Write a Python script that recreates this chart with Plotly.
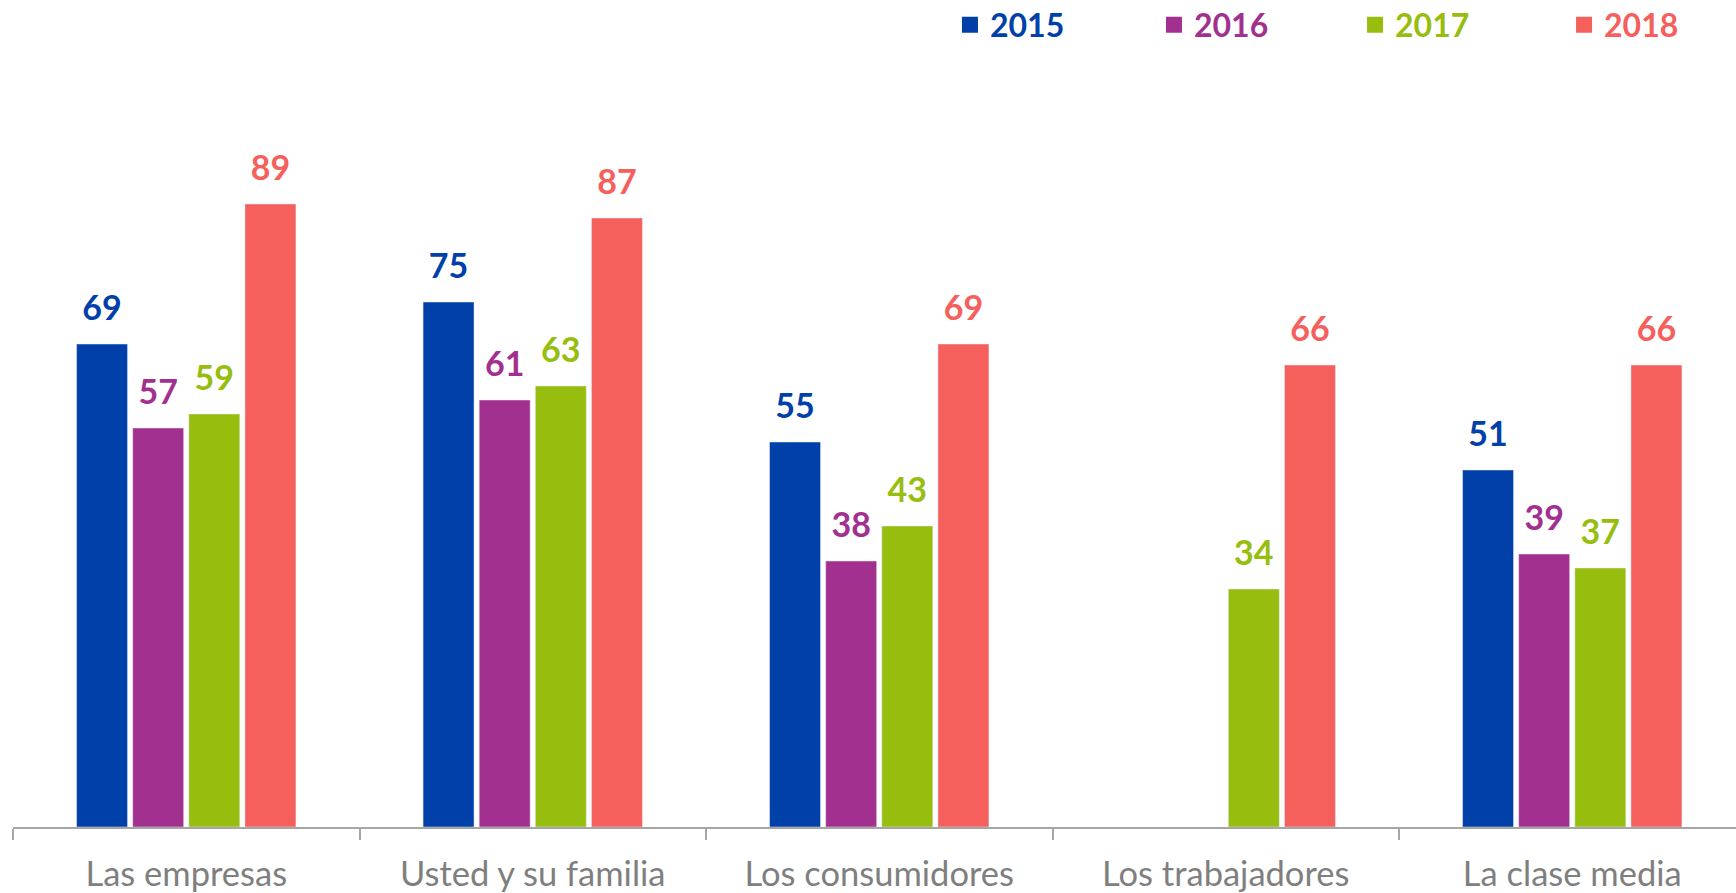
import plotly.graph_objects as go

categories = ["Las empresas", "Usted y su familia", "Los consumidores", "Los trabajadores", "La clase media"]
years = ["2015", "2016", "2017", "2018"]
v2015 = [69, 75, 55, None, 51]
v2016 = [57, 61, 38, None, 39]
v2017 = [59, 63, 43, 34, 37]
v2018 = [89, 87, 69, 66, 66]
series = [v2015, v2016, v2017, v2018]
colors = ["#0040A8", "#A2308F", "#97BD0F", "#F5605C"]

FONT = "Lato"
legend_ids = ["legend", "legend2", "legend3", "legend4"]
legend_x = [0.5438, 0.6622, 0.7789, 0.9002]

fig = go.Figure()

for yr, vals, col in zip(years, series, colors):
    fig.add_trace(go.Bar(
        x=categories, y=vals, name=yr, marker_color=col,
        showlegend=False, hoverinfo="skip",
    ))

for yr, vals, col in zip(years, series, colors):
    fig.add_trace(go.Scatter(
        x=categories, y=vals, mode="markers+text",
        text=[f"<b>{v}</b>" if v is not None else "" for v in vals],
        textposition="top center",
        textfont=dict(family=FONT, size=34, color=col),
        marker=dict(size=24, color="rgba(0,0,0,0)"),
        cliponaxis=False, showlegend=False, hoverinfo="skip",
    ))

for yr, col, lg in zip(years, colors, legend_ids):
    fig.add_trace(go.Scatter(
        x=[None], y=[None], mode="markers", xaxis="x2", legend=lg,
        name=f"<span style='color:{col}'><b>{yr}</b></span>",
        marker=dict(symbol="square", size=20, color=col),
    ))

legend_style = dict(
    orientation="h", xanchor="left",
    yref="container", y=1 - 25 / 893, yanchor="middle",
    font=dict(family=FONT, size=32),
    itemclick=False, bgcolor="rgba(0,0,0,0)",
)

fig.update_layout(
    width=1736, height=893,
    margin=dict(l=13, r=0, t=127, b=66),
    paper_bgcolor="white", plot_bgcolor="white",
    barmode="group", bargap=0.352, bargroupgap=0.092,
    scattermode="group", scattergap=0.352,
    font=dict(family=FONT),
    xaxis=dict(
        type="category", showline=True, linecolor="#A6A6A6", linewidth=1.5,
        ticks="outside", tickson="boundaries", ticklen=11, tickcolor="#A6A6A6",
        tickwidth=1.5, showgrid=False, zeroline=False,
        tickfont=dict(family=FONT, size=34.5, color="#7F7F7F"),
        ticklabelstandoff=16, range=[-0.5, 4.4726],
    ),
    xaxis2=dict(overlaying="x", visible=False, range=[0, 1]),
    yaxis=dict(range=[0, 100], visible=False, showgrid=False, zeroline=False),
)
for lg, lx in zip(legend_ids, legend_x):
    fig.update_layout({lg: dict(legend_style, x=lx)})

fig.write_html("out.html", config={"displayModeBar": False},
               post_script="document.body.style.margin='0';")
